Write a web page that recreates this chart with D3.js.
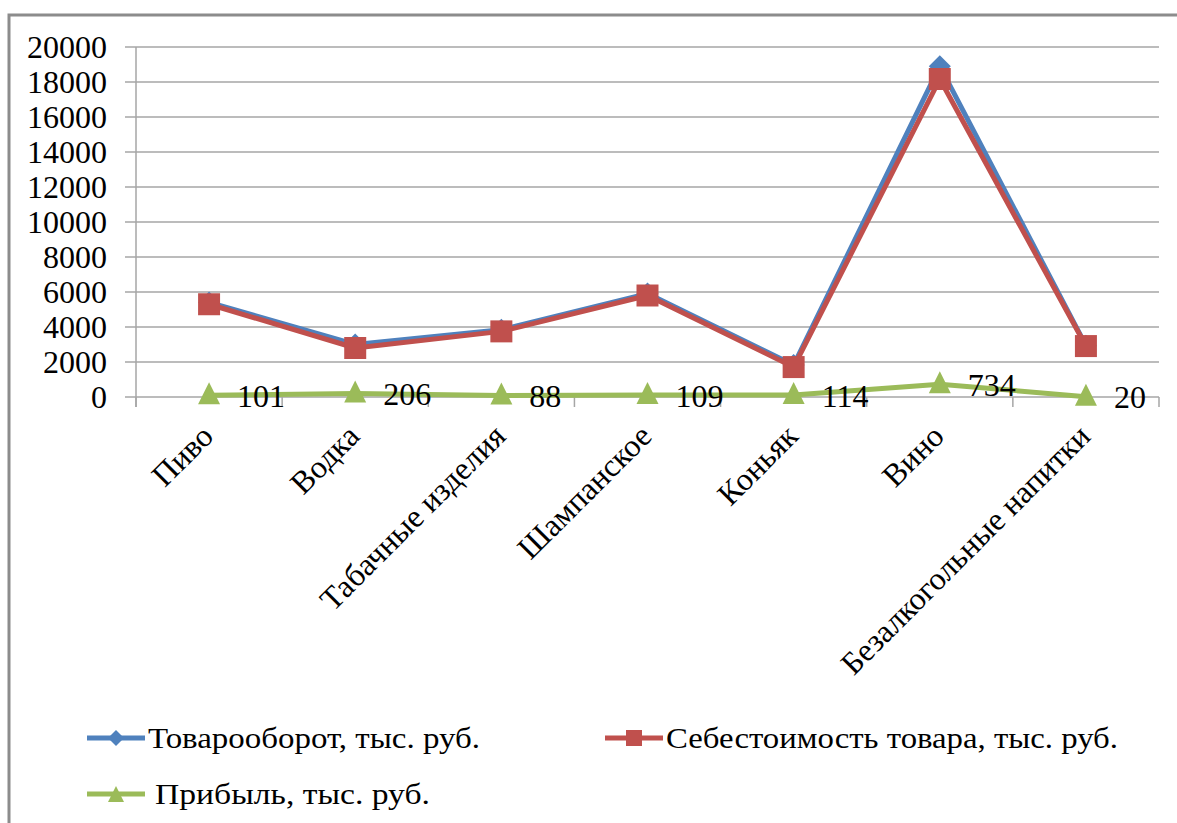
<!DOCTYPE html>
<html>
<head>
<meta charset="utf-8">
<script src="https://cdn.jsdelivr.net/npm/d3@7"></script>
<style>
  html, body { margin: 0; padding: 0; background: #fff; }
  svg { display: block; }
</style>
</head>
<body>
<svg id="chart" width="1177" height="823"></svg>
<script>
const CATEGORIES = ['Пиво', 'Водка', 'Табачные изделия', 'Шампанское', 'Коньяк', 'Вино', 'Безалкогольные напитки'];
const REVENUE = [5401, 3006, 3838, 5909, 1824, 18904, 2930];
const COST    = [5300, 2800, 3750, 5800, 1710, 18170, 2910];
const PROFIT  = [101, 206, 88, 109, 114, 734, 20];
const Y_TICKS = [0, 2000, 4000, 6000, 8000, 10000, 12000, 14000, 16000, 18000, 20000];

const SERIES = [
  { name: 'Товарооборот, тыс. руб.',         values: REVENUE, color: '#4F81BD', marker: 'diamond' },
  { name: 'Себестоимость товара, тыс. руб.', values: COST,    color: '#C0504D', marker: 'square' },
  { name: 'Прибыль, тыс. руб.',              values: PROFIT,  color: '#9BBB59', marker: 'triangle', labels: true },
];

const M = { left: 136, right: 1159, top: 47, bottom: 397 };
const SERIF = 'Liberation Serif';
const FONT = 32;
const GRID = '#a6a6a6';

const svg = d3.select('#chart');

// outer chart border (right/bottom edges are off-picture)
svg.append('path')
  .attr('d', 'M9,830 L9,15 L1190,15')
  .attr('fill', 'none').attr('stroke', '#8c8c8c').attr('stroke-width', 3);

const x = d3.scaleBand().domain(CATEGORIES).range([M.left, M.right]);
const cx = c => x(c) + x.bandwidth() / 2;
const y = d3.scaleLinear().domain([0, 20000]).range([M.bottom, M.top]);

// gridlines (start left of the axis, doubling as tick marks)
svg.append('g').selectAll('line')
  .data(Y_TICKS)
  .join('line')
  .attr('x1', M.left - 11).attr('x2', M.right)
  .attr('y1', d => y(d)).attr('y2', d => y(d))
  .attr('stroke', GRID).attr('stroke-width', 1.5);

// y tick labels
svg.append('g').selectAll('text')
  .data(Y_TICKS)
  .join('text')
  .attr('x', M.left - 29)
  .attr('y', d => y(d))
  .attr('dy', '0.34em')
  .attr('text-anchor', 'end')
  .attr('font-family', SERIF)
  .attr('font-size', FONT)
  .text(d => d);

svg.append('line')
  .attr('x1', M.left).attr('x2', M.left)
  .attr('y1', M.top).attr('y2', M.bottom + 10)
  .attr('stroke', GRID).attr('stroke-width', 1.5);

// category tick marks at band edges
const edges = CATEGORIES.map(c => x(c)).concat([M.right]);
svg.append('g').selectAll('line')
  .data(edges)
  .join('line')
  .attr('x1', d => d).attr('x2', d => d)
  .attr('y1', M.bottom).attr('y2', M.bottom + 10)
  .attr('stroke', GRID).attr('stroke-width', 1.5);

// rotated category labels
svg.append('g').selectAll('text')
  .data(CATEGORIES)
  .join('text')
  .attr('transform', c => `translate(${cx(c) - 10},${M.bottom + 25}) rotate(-45)`)
  .attr('text-anchor', 'end')
  .attr('dy', '0.71em')
  .attr('font-family', SERIF)
  .attr('font-size', FONT)
  .text(c => c);

function markerPath(type, s) {
  if (type === 'diamond') return `M0,${-s}L${s},0L0,${s}L${-s},0Z`;
  if (type === 'square') return `M${-s},${-s}H${s}V${s}H${-s}Z`;
  return `M0,${-s}L${s},${s}L${-s},${s}Z`;
}

const line = d3.line().x((d, i) => cx(CATEGORIES[i])).y(d => y(d));

SERIES.forEach(s => {
  const g = svg.append('g');
  g.append('path')
    .attr('d', line(s.values))
    .attr('fill', 'none').attr('stroke', s.color).attr('stroke-width', 5)
    .attr('stroke-linejoin', 'round');
  g.selectAll('path.mk')
    .data(s.values)
    .join('path')
    .attr('class', 'mk')
    .attr('transform', (d, i) => `translate(${cx(CATEGORIES[i])},${y(d) + (s.marker === 'triangle' ? -2 : 0)})`)
    .attr('d', markerPath(s.marker, 11))
    .attr('fill', s.color);
  if (s.labels) {
    g.selectAll('text')
      .data(s.values)
      .join('text')
      .attr('x', (d, i) => cx(CATEGORIES[i]) + 28)
      .attr('y', d => y(d))
      .attr('dy', '0.36em')
      .attr('font-family', SERIF)
      .attr('font-size', FONT)
      .text(d => d);
  }
});

// legend
const LEGEND_POS = [[87, 738], [605, 738], [87, 794]];
const LEGEND_W = [332, 452, 275];
SERIES.forEach((s, i) => {
  const [lx, ly] = LEGEND_POS[i];
  const g = svg.append('g').attr('transform', `translate(${lx},${ly})`);
  g.append('line').attr('x1', 0).attr('x2', 58).attr('y1', 0).attr('y2', 0)
    .attr('stroke', s.color).attr('stroke-width', 5);
  g.append('path').attr('transform', 'translate(29,0)')
    .attr('d', markerPath(s.marker, 8)).attr('fill', s.color);
  g.append('text')
    .attr('x', s.marker === 'triangle' ? 68 : 61).attr('y', 0).attr('dy', '0.34em')
    .attr('font-family', SERIF)
    .attr('font-size', 29)
    .attr('textLength', LEGEND_W[i]).attr('lengthAdjust', 'spacingAndGlyphs')
    .text(s.name);
});
</script>
</body>
</html>
